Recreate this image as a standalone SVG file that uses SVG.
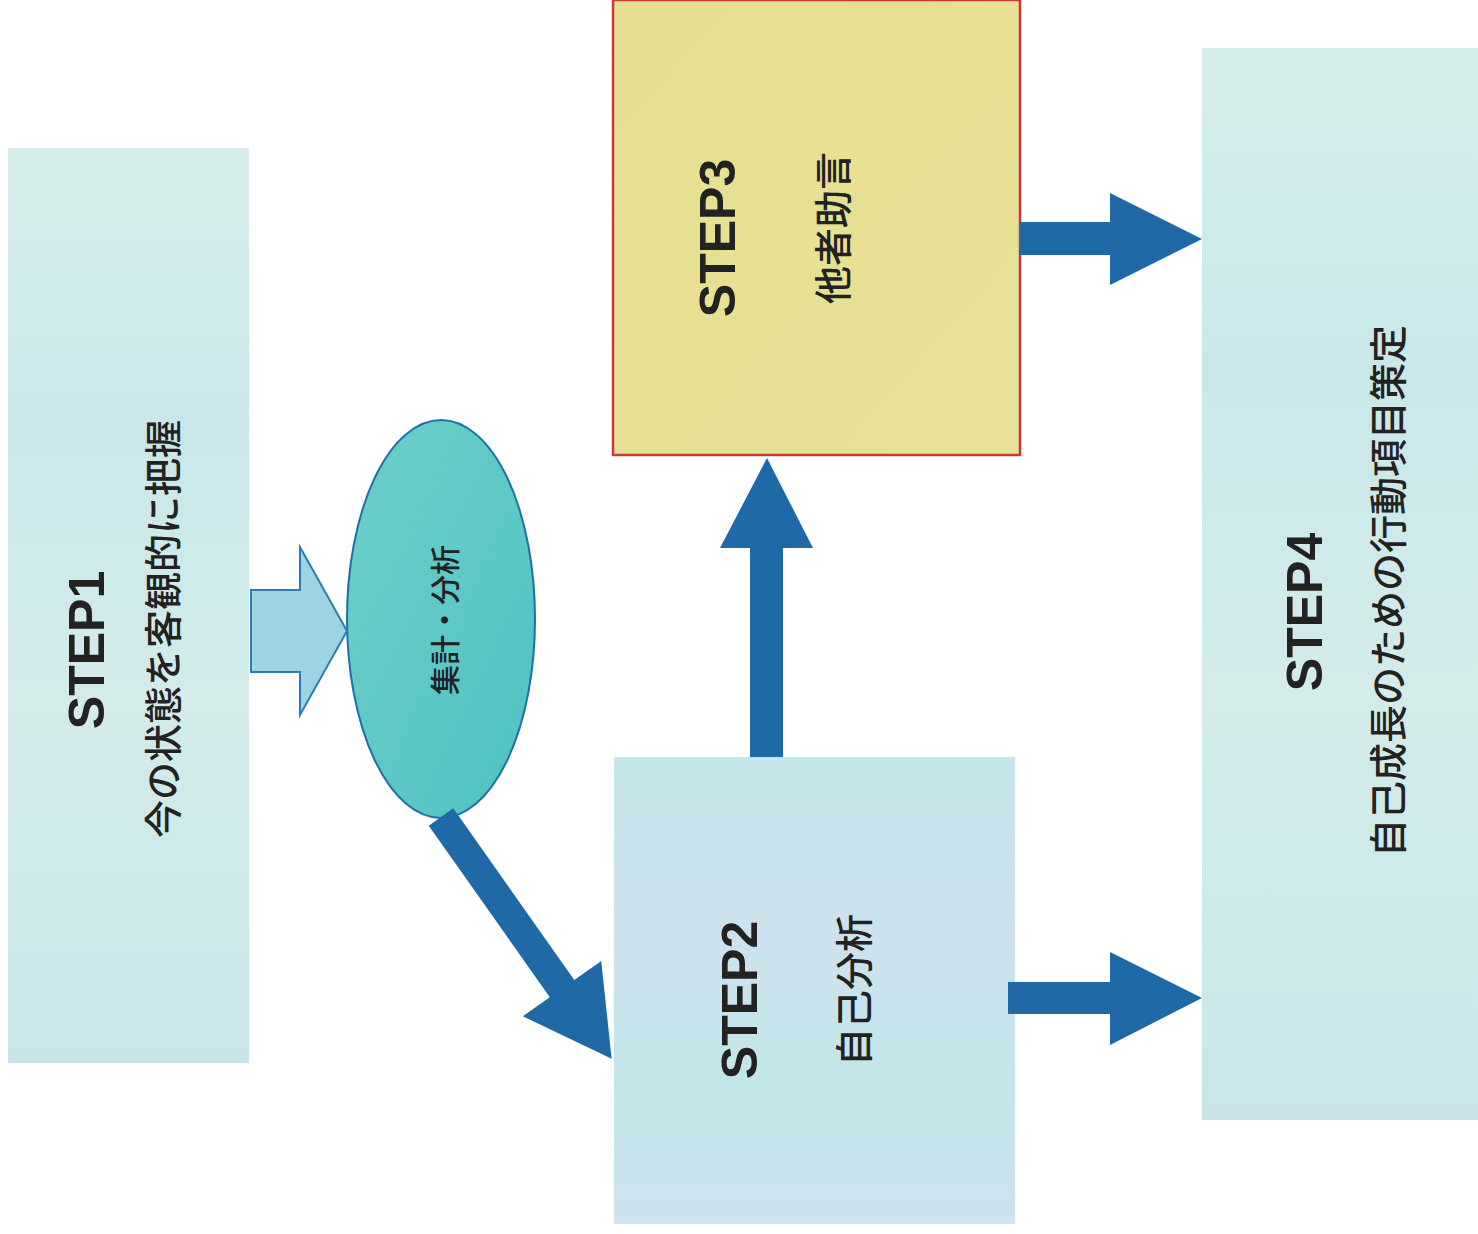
<svg xmlns="http://www.w3.org/2000/svg" width="1478" height="1234" viewBox="0 0 1478 1234">
<defs>
<style>
.lbl{font-family:"Liberation Sans","Noto Sans CJK JP",sans-serif;font-weight:bold;font-size:50px;fill:#222;}
.jp{font-family:"Noto Sans CJK JP",sans-serif;font-weight:500;font-size:38px;fill:#222;}
.conn{fill:#1f6aa6;}
</style>
<linearGradient id="gBlue" x1="0" y1="0" x2="0" y2="1">
<stop offset="0" stop-color="#d6eeeb"/>
<stop offset="0.3" stop-color="#c9e7ea"/>
<stop offset="0.6" stop-color="#d3ecea"/>
<stop offset="1" stop-color="#c8e6e9"/>
</linearGradient>
<linearGradient id="gBlue2" x1="0" y1="0" x2="0" y2="1">
<stop offset="0" stop-color="#c6e6eb"/>
<stop offset="0.4" stop-color="#cde2ee"/>
<stop offset="0.7" stop-color="#c3e6ea"/>
<stop offset="1" stop-color="#cde3ee"/>
</linearGradient>
<linearGradient id="gYellow" x1="0" y1="0" x2="1" y2="1">
<stop offset="0" stop-color="#e6df90"/>
<stop offset="1" stop-color="#e9e196"/>
</linearGradient>
<linearGradient id="gTeal" x1="0" y1="0" x2="1" y2="1">
<stop offset="0" stop-color="#6dcfc8"/>
<stop offset="1" stop-color="#4fc2c2"/>
</linearGradient>
</defs>
<rect width="1478" height="1234" fill="#ffffff"/>

<g id="step1">
<rect x="8" y="148" width="241" height="915" fill="url(#gBlue)"/>
<text class="lbl" text-anchor="middle" dominant-baseline="central" transform="translate(87,650) rotate(-90)">STEP1</text>
<text class="jp" text-anchor="middle" dominant-baseline="central" transform="translate(160,629) rotate(-90)">今の状態を客観的に把握</text>
</g>

<g id="analysis">
<ellipse cx="441" cy="619" rx="94" ry="199" fill="url(#gTeal)" stroke="#1f6fa8" stroke-width="2"/>
<text class="jp" style="font-size:30px" text-anchor="middle" dominant-baseline="central" transform="translate(443,620) rotate(-90)">集計・分析</text>
</g>

<g id="step3">
<rect x="613" y="0" width="407" height="455" fill="url(#gYellow)" stroke="#c8383f" stroke-width="2.5"/>
<text class="lbl" text-anchor="middle" dominant-baseline="central" transform="translate(718,238) rotate(-90)">STEP3</text>
<text class="jp" text-anchor="middle" dominant-baseline="central" transform="translate(830,228) rotate(-90)">他者助言</text>
</g>

<g id="step2">
<rect x="614" y="757" width="401" height="467" fill="url(#gBlue2)"/>
<text class="lbl" text-anchor="middle" dominant-baseline="central" transform="translate(740,1000) rotate(-90)">STEP2</text>
<text class="jp" text-anchor="middle" dominant-baseline="central" transform="translate(851,990) rotate(-90)">自己分析</text>
</g>

<g id="step4">
<rect x="1202" y="48" width="276" height="1072" fill="url(#gBlue)"/>
<text class="lbl" text-anchor="middle" dominant-baseline="central" transform="translate(1305,612) rotate(-90)">STEP4</text>
<text class="jp" text-anchor="middle" dominant-baseline="central" transform="translate(1385,591) rotate(-90)">自己成長のための行動項目策定</text>
</g>

<g id="connectors">
<polygon points="251,590 300,590 300,547 347,631 300,715 300,672 251,672" fill="#9dd3e3" stroke="#2b7bb5" stroke-width="2"/>
<polygon class="conn" transform="translate(441,817) rotate(54.8)" points="0,-15 210,-15 210,-48 296,0 210,48 210,15 0,15"/>
<polygon class="conn" points="750,757 750,548 720,548 767,458 813,548 783,548 783,757"/>
<polygon class="conn" points="1020,222 1110,222 1110,193 1202,239 1110,285 1110,255 1020,255"/>
<polygon class="conn" points="1008,982 1110,982 1110,952 1202,998 1110,1045 1110,1014 1008,1014"/>
</g>
</svg>
